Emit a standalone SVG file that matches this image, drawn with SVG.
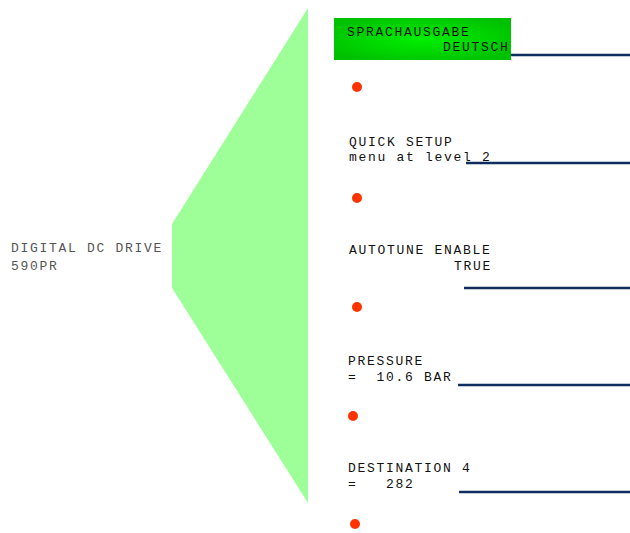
<svg xmlns="http://www.w3.org/2000/svg" width="630" height="533" viewBox="0 0 630 533">
<defs>
<radialGradient id="lcd" cx="0.5" cy="0.5" r="0.6">
<stop offset="0" stop-color="#00f000"/>
<stop offset="1" stop-color="#00c000"/>
</radialGradient>
<style>
.t{font-family:"Liberation Mono","DejaVu Sans Mono",monospace;font-size:13px;letter-spacing:1.7px;fill:#111}
.g{fill:#555}
.ln{stroke:#0f2d5e;stroke-width:2.5;fill:none}
.dot{fill:#ff3300}
</style>
</defs>
<rect width="630" height="533" fill="#fff"/>
<g id="fan">
<polygon points="308,8 172,224 172,288 308,503" fill="#9eff99"/>
</g>
<g id="device">
<text class="t g" x="11" y="252">DIGITAL DC DRIVE</text>
<text class="t g" x="11" y="270">590PR</text>
</g>
<g id="connectors">
<line class="ln" x1="511" y1="55" x2="630" y2="55"/>
<line class="ln" x1="466" y1="163" x2="630" y2="163"/>
<line class="ln" x1="464" y1="288" x2="630" y2="288"/>
<line class="ln" x1="458" y1="385" x2="630" y2="385"/>
<line class="ln" x1="459" y1="492" x2="630" y2="492"/>
</g>
<g id="screen1">
<rect x="334" y="18" width="177" height="42" fill="url(#lcd)"/>
<text class="t" x="347" y="36">SPRACHAUSGABE</text>
<text class="t" x="443" y="51">DEUTSCH</text>
<circle class="dot" cx="357" cy="87" r="5"/>
</g>
<g id="screen2">
<text class="t" x="349" y="146">QUICK SETUP</text>
<text class="t" x="349" y="161">menu at level 2</text>
<circle class="dot" cx="357" cy="198" r="5"/>
</g>
<g id="screen3">
<text class="t" x="349" y="254">AUTOTUNE ENABLE</text>
<text class="t" x="454" y="270">TRUE</text>
<circle class="dot" cx="357" cy="307" r="5"/>
</g>
<g id="screen4">
<text class="t" x="348" y="365">PRESSURE</text>
<text class="t" x="348" y="381" xml:space="preserve">=  10.6 BAR</text>
<circle class="dot" cx="353" cy="416" r="5"/>
</g>
<g id="screen5">
<text class="t" x="348" y="472">DESTINATION 4</text>
<text class="t" x="348" y="488" xml:space="preserve">=   282</text>
<circle class="dot" cx="355" cy="524" r="5"/>
</g>
</svg>
